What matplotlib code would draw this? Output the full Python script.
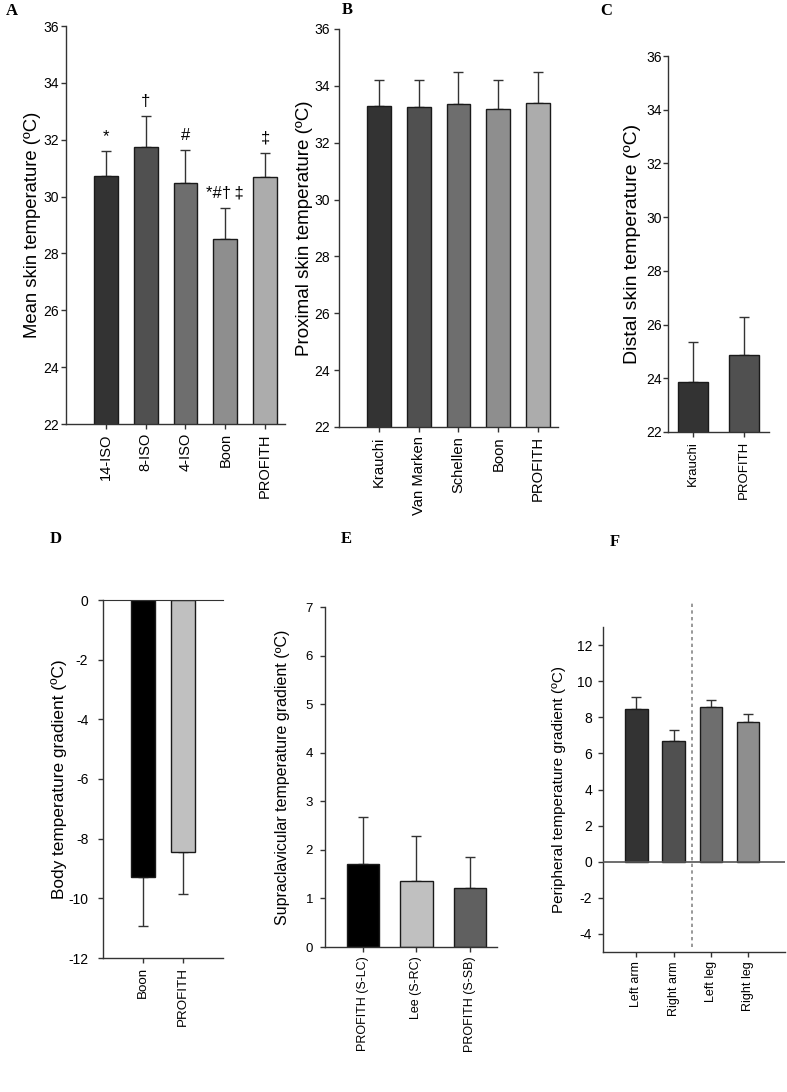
import matplotlib
matplotlib.use("Agg")
import matplotlib.pyplot as plt
import numpy as np

plt.rcParams["font.family"] = ["Liberation Sans", "DejaVu Sans"]
plt.rcParams["axes.unicode_minus"] = False

# --- data -------------------------------------------------------------
a_labels = ["14-ISO", "8-ISO", "4-ISO", "Boon", "PROFITH"]
a_vals = [30.73, 31.73, 30.46, 28.50, 30.68]
a_err = [0.88, 1.11, 1.18, 1.10, 0.86]
a_marks = ["*", "\u2020", "#", "*#\u2020\u2009\u2021", "\u2021"]

b_labels = ["Krauchi", "Van Marken", "Schellen", "Boon", "PROFITH"]
b_vals = [33.30, 33.25, 33.35, 33.20, 33.40]
b_err = [0.92, 0.97, 1.13, 1.01, 1.08]

c_labels = ["Krauchi", "PROFITH"]
c_vals = [23.85, 24.88]
c_err = [1.50, 1.41]

d_labels = ["Boon", "PROFITH"]
d_vals = [-9.28, -8.46]
d_err = [1.64, 1.40]

e_labels = ["PROFITH (S-LC)", "Lee (S-RC)", "PROFITH (S-SB)"]
e_vals = [1.71, 1.35, 1.21]
e_err = [0.96, 0.93, 0.64]

f_labels = ["Left arm", "Right arm", "Left leg", "Right leg"]
f_vals = [8.48, 6.70, 8.59, 7.73]
f_err = [0.64, 0.61, 0.36, 0.43]

greys = ["#333333", "#505050", "#6e6e6e", "#8e8e8e", "#acacac"]

W, H = 787, 1092
fig = plt.figure(figsize=(W / 100, H / 100), dpi=100)


def px_axes(left, right, top, bottom):
    return fig.add_axes([left / W, 1 - bottom / H, (right - left) / W, (bottom - top) / H])


def style(ax, labels, ylabel, xfs, yfs, lfs, ypad, lpad):
    for s in ["top", "right"]:
        ax.spines[s].set_visible(False)
    for s in ["left", "bottom"]:
        ax.spines[s].set_color("#333333")
        ax.spines[s].set_linewidth(1.0)
    ax.set_xticks(np.arange(1, len(labels) + 1))
    ax.set_xticklabels(labels, rotation=90, fontsize=xfs)
    ax.tick_params(axis="both", direction="out", length=3.6, width=1, color="#333333")
    ax.tick_params(axis="x", pad=3)
    ax.tick_params(axis="y", labelsize=yfs, pad=ypad)
    ax.set_ylabel(ylabel, fontsize=lfs, labelpad=lpad)


def bars(ax, vals, err, colors, down=False):
    x = np.arange(1, len(vals) + 1)
    ax.bar(x, vals, width=0.6, color=colors, edgecolor="#1a1a1a", linewidth=1.0, zorder=2)
    z = np.zeros(len(vals))
    yerr = [err, z] if down else [z, err]
    ax.errorbar(x, vals, yerr=yerr, fmt="none", ecolor="#333333", elinewidth=1,
                capsize=3.6, capthick=1, zorder=1)


def panel(letter, x, y):
    fig.text(x / W, 1 - y / H, letter, fontsize=12, fontweight="bold",
             family="Liberation Serif", ha="left", va="center")


# A
ax = px_axes(66, 285, 26, 424)
bars(ax, a_vals, a_err, greys)
ax.set_xlim(0, 5.5)
ax.set_ylim(22, 36)
ax.set_yticks(np.arange(22, 37, 2))
style(ax, a_labels, "Mean skin temperature (ºC)", 10.5, 10, 13.3, 1.5, 1.5)
for i, m in enumerate(a_marks):
    ax.text(i + 1, a_vals[i] + a_err[i] + 0.25, m, ha="center", va="bottom", fontsize=12)
panel("A", 6, 11)

# B
ax = px_axes(339, 558, 29, 427)
bars(ax, b_vals, b_err, greys)
ax.set_xlim(0, 5.5)
ax.set_ylim(22, 36)
ax.set_yticks(np.arange(22, 37, 2))
style(ax, b_labels, "Proximal skin temperature (ºC)", 10.6, 10, 13.5, 3, 1)
panel("B", 342, 10)

# C
ax = px_axes(668, 769, 56, 432)
bars(ax, c_vals, c_err, greys[:2])
ax.set_xlim(0.5, 2.5)
ax.set_ylim(22, 36)
ax.set_yticks(np.arange(22, 37, 2))
style(ax, c_labels, "Distal skin temperature (ºC)", 9.5, 10, 14, 1, 3.3)
panel("C", 600, 11)

# D
ax = px_axes(103, 223, 600, 958)
bars(ax, d_vals, d_err, ["#000000", "#c0c0c0"], down=True)
ax.set_xlim(0, 3)
ax.set_ylim(-12, 0)
ax.set_yticks(np.arange(-12, 1, 2))
style(ax, d_labels, "Body temperature gradient (ºC)", 9.6, 10, 12.4, 7, 0.5)
ax.spines["top"].set_visible(True)
ax.spines["top"].set_color("#333333")
panel("D", 50, 539)

# E
ax = px_axes(325, 497, 607, 947)
bars(ax, e_vals, e_err, ["#000000", "#c0c0c0", "#606060"])
ax.set_xlim(0.3, 3.5)
ax.set_ylim(0, 7)
ax.set_yticks(np.arange(0, 8, 1))
style(ax, e_labels, "Supraclavicular temperature gradient (ºC)", 9, 9.5, 11.5, 5, 11)
panel("E", 341, 539)

# F
ax = px_axes(603, 785, 627, 952)
bars(ax, f_vals, f_err, greys[:4])
ax.set_xlim(0.1, 5.0)
ax.set_ylim(-5, 13)
ax.set_yticks(np.arange(-4, 13, 2))
style(ax, f_labels, "Peripheral temperature gradient (ºC)", 9, 10, 11, 4.3, 7.5)
ax.axhline(0, color="#555555", linewidth=1.2, zorder=3)
ax.plot([2.5, 2.5], [-4.7, 14.4], linestyle=(0, (2, 2)), color="#888888",
        linewidth=1.2, clip_on=False, zorder=0)
panel("F", 610, 542)

fig.savefig("out.png", dpi=100)
